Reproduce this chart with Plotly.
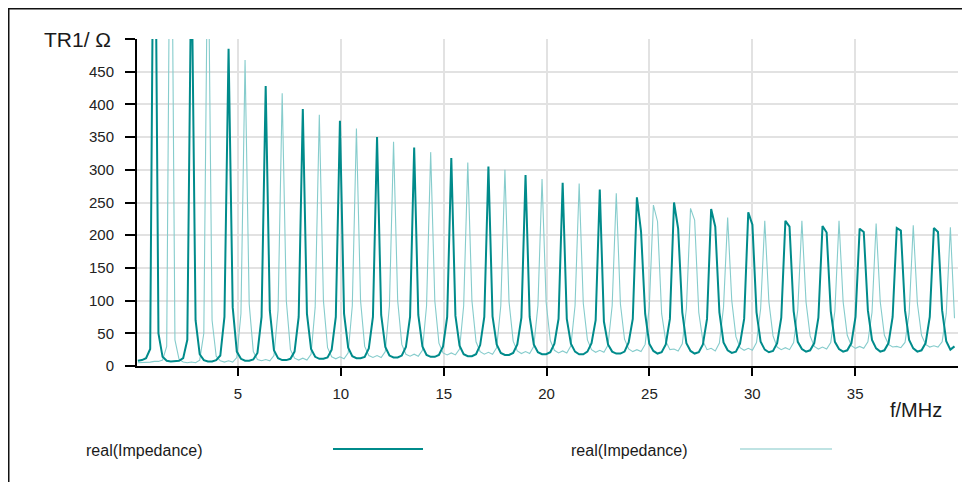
import numpy as np
import plotly.graph_objects as go

# ---------------- data ----------------
freq_mhz = np.linspace(0.13, 39.83, 199)   # frequency sweep, MHz

dark_ohm = [
    8, 9, 12, 26,
    900, 50, 14, 8, 7, 7, 8, 12, 40,
    640, 70, 18, 9, 7, 7, 9, 16, 75,
    485, 90, 22, 11, 8, 8, 10, 20, 75,
    428, 85, 24, 12, 9, 9, 11, 22, 75,
    393, 80, 26, 14, 11, 11, 13, 25, 75,
    375, 80, 28, 15, 12, 12, 14, 27, 75,
    350, 78, 29, 16, 13, 13, 16, 29, 75,
    334, 78, 30, 17, 14, 14, 17, 30, 75,
    318, 77, 31, 18, 15, 15, 18, 32, 75,
    305, 76, 33, 20, 17, 17, 20, 33, 74,
    292, 75, 33, 21, 18, 18, 21, 34, 72,
    280, 72, 34, 22, 18, 18, 22, 35, 70,
    270, 68, 33, 22, 19, 19, 22, 36, 72,
    258, 206, 80, 34, 23, 19, 21, 33, 72,
    250, 210, 82, 35, 23, 19, 21, 33, 72,
    240, 213, 82, 36, 24, 20, 22, 34, 72,
    235, 216, 82, 37, 25, 21, 23, 35, 74,
    222, 213, 84, 37, 26, 22, 24, 35, 74,
    214, 204, 84, 37, 26, 22, 24, 35, 75,
    210, 205, 85, 40, 27, 22, 24, 35, 75,
    211, 207, 85, 40, 27, 22, 24, 35, 75,
    211, 205, 85, 38, 25, 30,
]

light_ohm = [
    5, 5, 5, 6, 7, 7, 9, 30,
    900, 40, 10, 6, 5, 6, 5, 9, 50,
    700, 70, 15, 8, 6, 8, 6, 13, 80,
    468, 95, 22, 10, 8, 10, 8, 16, 85,
    417, 100, 25, 12, 9, 12, 9, 18, 90,
    384, 100, 28, 14, 11, 14, 11, 20, 92,
    363, 100, 30, 16, 13, 16, 13, 22, 92,
    343, 100, 33, 18, 15, 18, 15, 24, 92,
    327, 100, 35, 20, 17, 20, 17, 26, 92,
    311, 100, 37, 22, 18, 21, 18, 28, 92,
    300, 98, 38, 23, 19, 22, 19, 30, 92,
    286, 97, 39, 24, 20, 23, 20, 31, 92,
    279, 96, 40, 25, 21, 24, 21, 32, 92,
    264, 95, 41, 26, 22, 25, 22, 33, 90,
    246, 221, 80, 38, 25, 26, 23, 34, 88,
    241, 223, 82, 38, 25, 27, 23, 35, 90,
    227, 100, 45, 28, 24, 27, 24, 36, 88,
    222, 98, 46, 29, 25, 28, 25, 36, 86,
    222, 98, 46, 30, 26, 29, 26, 36, 84,
    222, 98, 47, 31, 27, 30, 27, 37, 82,
    218, 98, 47, 33, 29, 30, 28, 36, 80,
    215, 96, 47, 33, 29, 31, 29, 37, 80,
    212, 73,
]

x_tick_vals = [5, 10, 15, 20, 25, 30, 35]
x_tick_text = ["5", "10", "15", "20", "25", "30", "35"]
y_tick_vals = [0, 50, 100, 150, 200, 250, 300, 350, 400, 450, 500]
y_tick_text = ["0", "50", "100", "150", "200", "250", "300", "350", "400", "450", ""]

series_names = ["real(Impedance)", "real(Impedance)"]
dark_color = "#008b8b"
light_color = "#86cccc"

# ---------------- figure ----------------
W, H = 970, 482
OFF = 8                      # page body margin
L, R, T, B = 129, 20, 31, 124
pw, ph = W - L - R, H - T - B


def px(xv):
    """viewport x pixel -> paper coordinate"""
    return (xv - OFF - L) / pw


def py(yv):
    """viewport y pixel -> paper coordinate"""
    return (H - B - (yv - OFF)) / ph


fig = go.Figure()
fig.add_trace(go.Scatter(x=freq_mhz, y=light_ohm, mode="lines",
                         line=dict(color=light_color, width=1.1),
                         name=series_names[1], showlegend=False))
fig.add_trace(go.Scatter(x=freq_mhz, y=dark_ohm, mode="lines",
                         line=dict(color=dark_color, width=2),
                         name=series_names[0], showlegend=False))

font_family = "Liberation Sans, Arial, Helvetica, sans-serif"
fig.update_layout(
    width=W, height=H,
    margin=dict(l=L, r=R, t=T, b=B, pad=0),
    paper_bgcolor="white", plot_bgcolor="white",
    font=dict(family=font_family, color="#1a1a1a", size=15),
)
fig.update_xaxes(range=[0.09, 40.0], tickvals=x_tick_vals, ticktext=x_tick_text,
                 ticks="outside", ticklen=8, tickwidth=2, tickcolor="black",
                 showline=True, linecolor="black", linewidth=2,
                 showgrid=True, gridcolor="#e2e2e2", gridwidth=1.5,
                 zeroline=False, tickfont=dict(size=15, color="#222"),
                 ticklabelstandoff=5)
fig.update_yaxes(range=[0, 500], tickvals=y_tick_vals, ticktext=y_tick_text,
                 ticks="outside", ticklen=10, tickwidth=2, tickcolor="black",
                 showline=True, linecolor="black", linewidth=2,
                 showgrid=True, gridcolor="#e2e2e2", gridwidth=1.5,
                 zeroline=False, tickfont=dict(size=15, color="#222"),
                 ticklabelstandoff=8)

ann = [
    dict(text="TR1/ Ω", x=px(113), y=py(39), xanchor="right", yanchor="middle",
         font=dict(size=21, color="#1a1a1a")),
    dict(text="f/MHz", x=px(944), y=py(410), xanchor="right", yanchor="middle",
         font=dict(size=20, color="#1a1a1a")),
    dict(text=series_names[0], x=px(84), y=py(450), xanchor="left", yanchor="middle",
         font=dict(size=16, color="#1a1a1a")),
    dict(text=series_names[1], x=px(569), y=py(450), xanchor="left", yanchor="middle",
         font=dict(size=16, color="#1a1a1a")),
]
for a in ann:
    a.update(xref="paper", yref="paper", showarrow=False)
fig.update_layout(annotations=ann)

shapes = [
    # legend samples
    dict(type="line", x0=px(333), x1=px(423), y0=py(449), y1=py(449),
         line=dict(color=dark_color, width=2)),
    dict(type="line", x0=px(740), x1=px(832), y0=py(449), y1=py(449),
         line=dict(color="#bfe3e3", width=2)),
    # outer frame (top and left visible)
    dict(type="line", x0=px(8), x1=px(990), y0=py(8), y1=py(8),
         line=dict(color="#111", width=3)),
    dict(type="line", x0=px(8), x1=px(8), y0=py(8), y1=py(500),
         line=dict(color="#111", width=3)),
]
for s in shapes:
    s.update(xref="paper", yref="paper", layer="above")
fig.update_layout(shapes=shapes)

fig.write_html("out.html")
